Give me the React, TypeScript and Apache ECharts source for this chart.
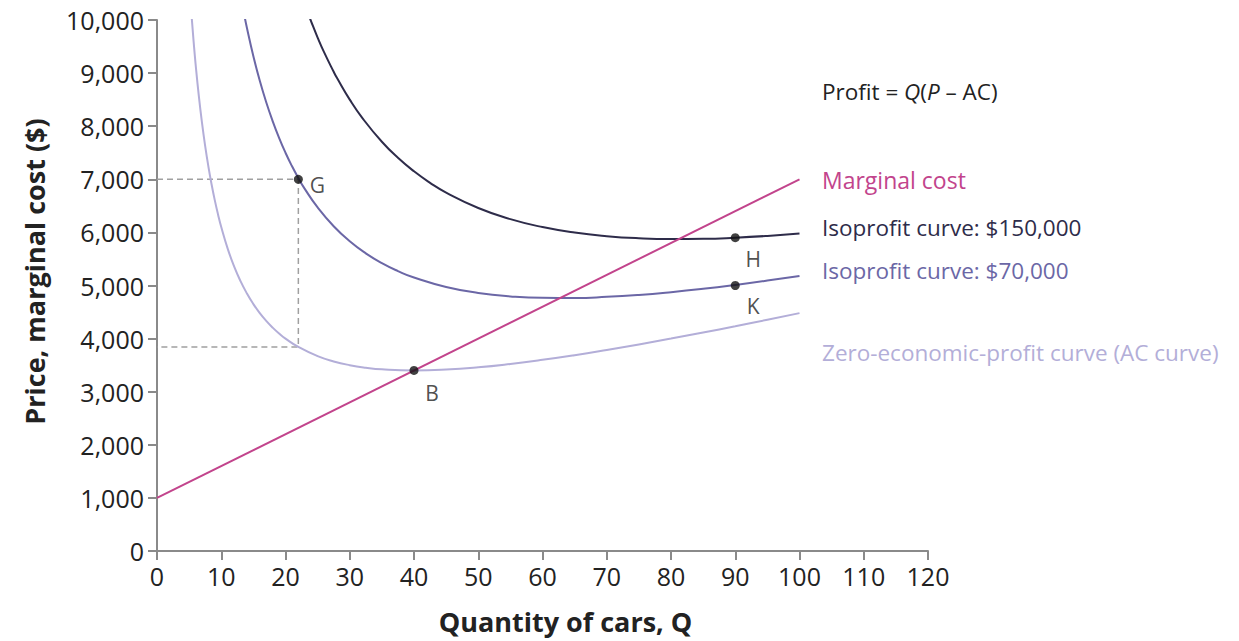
import React, { useEffect, useRef } from "react";
import * as echarts from "echarts";

const mcLine: [number, number][] = [
  [0, 1000],
  [100, 7000],
];

const acCurve: [number, number][] = [
  [5.4, 10050], [5.7, 9592], [6, 9180], [6.5, 8580], [7, 8067], [7.5, 7625], [8, 7240],
  [8.5, 6902], [9, 6603], [9.5, 6338], [10, 6100], [11, 5694], [12, 5360], [13, 5082],
  [14, 4849], [15, 4650], [16, 4480], [17, 4334], [18, 4207], [19, 4096], [20, 4000],
  [22, 3842], [25, 3670], [27.5, 3570], [30, 3500], [32.5, 3452], [35, 3421], [40, 3400],
  [45, 3417], [50, 3460], [55, 3523], [60, 3600], [65, 3688], [70, 3786], [75, 3890],
  [80, 4000], [85, 4115], [90, 4233], [95, 4355], [100, 4480],
];

const iso70Curve: [number, number][] = [
  [13.5, 10146], [14, 9849], [15, 9317], [16, 8855], [17, 8451], [18, 8096], [19, 7781],
  [20, 7500], [21, 7249], [22, 7024], [23, 6820], [25, 6470], [27.5, 6116], [30, 5833],
  [32.5, 5606], [35, 5421], [37.5, 5272], [40, 5150], [45, 4972], [50, 4860], [55, 4795],
  [60, 4767], [65, 4765], [70, 4786], [75, 4823], [80, 4875], [85, 4938], [90, 5011],
  [95, 5092], [100, 5180],
];

const iso150Curve: [number, number][] = [
  [23.5, 10131], [24, 9970], [25, 9670], [26, 9395], [27.5, 9025], [28, 8911], [30, 8500],
  [32, 8148], [35, 7707], [37.5, 7405], [40, 7150], [42.5, 6934], [45, 6750], [50, 6460],
  [55, 6250], [60, 6100], [65, 5996], [70, 5929], [75, 5890], [80, 5875], [85, 5879],
  [90, 5900], [95, 5934], [100, 5980],
];

const guideG: [number, number][] = [
  [0, 7000],
  [22, 7000],
  [22, 3842],
  [0, 3842],
];

const pointNames = ["G", "B", "H", "K"];
const pointValues: [number, number][] = [
  [22, 7000],
  [40, 3400],
  [90, 5900],
  [90, 5000],
];

const FONT = "'Open Sans'";
const C_MC = "#c2448c";
const C_150 = "#2e2c4a";
const C_70 = "#6b67a6";
const C_AC = "#b3aed8";

export default function App() {
  const ref = useRef<HTMLDivElement>(null);

  useEffect(() => {
    if (!ref.current) return;
    const chart = echarts.init(ref.current, null, { renderer: "svg" });

    const labelPos: Record<string, any> = {
      G: { position: "right", offset: [2, 6] },
      B: { position: "bottom", offset: [18, 3] },
      H: { position: "bottom", offset: [18, 1] },
      K: { position: "bottom", offset: [18, 0] },
    };

    const sideText = (text: string, y: number, color: string, size: number) => ({
      type: "text",
      x: 822,
      y,
      style: { text, fontFamily: FONT, fontSize: size, fill: color, verticalAlign: "middle" },
    });

    chart.setOption({
      animation: false,
      textStyle: { fontFamily: FONT },
      grid: { left: 157, top: 20, width: 771, height: 531, containLabel: false },
      xAxis: {
        type: "value",
        min: 0,
        max: 120,
        interval: 10,
        name: "Quantity of cars, Q",
        nameLocation: "middle",
        nameGap: 57,
        nameTextStyle: {
          fontFamily: FONT,
          fontSize: 27,
          fontWeight: "bold",
          color: "#222",
          padding: [0, 0, 0, 46],
        },
        axisLine: { lineStyle: { color: "#8a8a8a", width: 2 } },
        axisTick: { show: true, length: 9, lineStyle: { color: "#8a8a8a", width: 2 } },
        axisLabel: {
          fontFamily: FONT,
          fontSize: 25,
          color: "#222",
          margin: 12,
        },
        splitLine: { show: false },
      },
      yAxis: {
        type: "value",
        min: 0,
        max: 10000,
        interval: 1000,
        name: "Price, marginal cost ($)",
        nameLocation: "middle",
        nameGap: 109,
        nameTextStyle: {
          fontFamily: FONT,
          fontSize: 27,
          fontWeight: "bold",
          color: "#222",
          padding: [0, 0, 0, 28],
        },
        axisLine: { show: true, lineStyle: { color: "#8a8a8a", width: 2 } },
        axisTick: { show: true, length: 9, lineStyle: { color: "#8a8a8a", width: 2 } },
        axisLabel: {
          fontFamily: FONT,
          fontSize: 25,
          color: "#222",
          margin: 13,
          formatter: (v: number) => v.toLocaleString("en-US"),
        },
        splitLine: { show: false },
      },
      series: [
        {
          type: "line",
          data: guideG,
          symbol: "none",
          lineStyle: { color: "#a0a0a0", width: 1.5, type: [6, 4] },
          silent: true,
          z: 1,
        },
        {
          type: "line",
          data: acCurve,
          smooth: true,
          symbol: "none",
          lineStyle: { color: C_AC, width: 2 },
          z: 2,
        },
        {
          type: "line",
          data: iso70Curve,
          smooth: true,
          symbol: "none",
          lineStyle: { color: C_70, width: 2 },
          z: 2,
        },
        {
          type: "line",
          data: iso150Curve,
          smooth: true,
          symbol: "none",
          lineStyle: { color: C_150, width: 2 },
          z: 2,
        },
        {
          type: "line",
          data: mcLine,
          symbol: "none",
          lineStyle: { color: C_MC, width: 2 },
          z: 3,
        },
        {
          type: "scatter",
          symbolSize: 9,
          itemStyle: { color: "#111" },
          z: 5,
          data: pointValues.map((p, i) => ({
            value: p,
            name: pointNames[i],
            label: {
              show: true,
              formatter: pointNames[i],
              fontFamily: FONT,
              fontSize: 21,
              color: "#222",
              ...labelPos[pointNames[i]],
            },
          })),
        },
      ],
      graphic: [
        {
          type: "text",
          x: 822,
          y: 91,
          style: {
            text: "{n|Profit = }{i|Q}{n|(}{i|P}{n| – AC)}",
            verticalAlign: "middle",
            rich: {
              n: { fontFamily: FONT, fontSize: 22.5, fill: "#222" },
              i: { fontFamily: FONT, fontSize: 22.5, fill: "#222", fontStyle: "italic" },
            },
          },
        },
        sideText("Marginal cost", 180, C_MC, 23),
        sideText("Isoprofit curve: $150,000", 227, C_150, 22.5),
        sideText("Isoprofit curve: $70,000", 270, C_70, 22.5),
        sideText("Zero-economic-profit curve (AC curve)", 352, C_AC, 22.5),
      ],
    });

    return () => chart.dispose();
  }, []);

  return (
    <div
      ref={ref}
      style={{ position: "fixed", left: 0, top: 0, width: 1239, height: 641, background: "#fff" }}
    />
  );
}
